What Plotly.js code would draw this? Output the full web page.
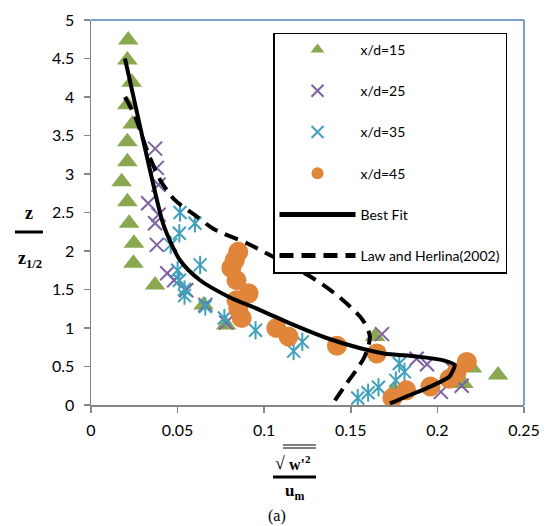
<!DOCTYPE html>
<html>
<head>
<meta charset="utf-8">
<script src="https://cdn.plot.ly/plotly-3.0.1.min.js"></script>
<style>html,body{margin:0;padding:0;background:#fff;}#chart{width:547px;height:526px;}</style>
</head>
<body>
<div id="chart"></div>
<script>
// x/d = 15 (green triangles)
const x15 = [0.0215,0.021,0.0235,0.021,0.024,0.021,0.021,0.0177,0.021,0.022,0.0248,0.0245,0.037,0.065,0.078,0.164,0.175,0.215,0.220,0.235];
const y15 = [4.74,4.48,4.19,3.90,3.65,3.42,3.16,2.90,2.64,2.36,2.10,1.84,1.56,1.30,1.04,0.89,0.19,0.28,0.48,0.39];
// x/d = 25 (purple crosses)
const x25 = [0.037,0.038,0.039,0.033,0.039,0.037,0.038,0.044,0.048,0.055,0.066,0.078,0.168,0.188,0.194,0.209,0.214,0.202];
const y25 = [3.33,3.08,2.86,2.62,2.47,2.36,2.08,1.71,1.62,1.49,1.30,1.07,0.92,0.60,0.53,0.46,0.25,0.17];
// x/d = 35 (cyan stars)
const x35 = [0.0514,0.060,0.051,0.046,0.063,0.050,0.051,0.054,0.054,0.066,0.077,0.095,0.122,0.117,0.154,0.160,0.166,0.176,0.181,0.178];
const y35 = [2.50,2.36,2.23,2.08,1.82,1.75,1.62,1.50,1.42,1.28,1.13,0.97,0.82,0.70,0.09,0.16,0.23,0.32,0.43,0.54];
// x/d = 45 (orange circles)
const x45 = [0.085,0.083,0.081,0.084,0.091,0.084,0.085,0.087,0.107,0.114,0.142,0.165,0.174,0.182,0.196,0.207,0.211,0.217];
const y45 = [1.99,1.88,1.78,1.62,1.45,1.36,1.25,1.13,1.00,0.89,0.77,0.67,0.09,0.19,0.24,0.34,0.42,0.56];
// Best fit curve
const xFit = [0.0196,0.030,0.041,0.0437,0.0514,0.063,0.080,0.098,0.117,0.136,0.155,0.169,0.188,0.2035,0.210,0.209,0.207,0.194,0.182,0.1726];
const yFit = [4.50,3.45,2.40,2.23,1.88,1.62,1.40,1.23,1.04,0.87,0.74,0.67,0.63,0.58,0.52,0.45,0.37,0.22,0.11,0.02];
// Law and Herlina (2002)
const xLaw = [0.0196,0.0254,0.033,0.040,0.0485,0.061,0.0706,0.090,0.109,0.128,0.144,0.157,0.161,0.158,0.153,0.1476,0.139];
const yLaw = [4.00,3.75,3.27,2.92,2.66,2.45,2.29,2.10,1.88,1.65,1.39,1.10,0.89,0.63,0.45,0.28,0.00];

const names = ['x/d=15','x/d=25','x/d=35','x/d=45','Best Fit','Law and Herlina(2002)'];
const xTicks = [0,0.05,0.1,0.15,0.2,0.25];
const xTickText = ['0','0.05','0.1','0.15','0.2','0.25'];
const yTicks = [0,0.5,1,1.5,2,2.5,3,3.5,4,4.5,5];
const yTickText = ['0','0.5','1','1.5','2','2.5','3','3.5','4','4.5','5'];

const green='#8AA84F', purple='#7E61A0', cyan='#3FA0BC', orange='#E0853A';

const traces = [
 {x:x15,y:y15,type:'scatter',mode:'markers',name:names[0],legendgroup:'a',
  marker:{symbol:'triangle-up',size:18,color:green}},
 {x:x25,y:y25,type:'scatter',mode:'markers',name:names[1],legendgroup:'b',
  marker:{symbol:'x-thin',size:14,color:purple,line:{color:purple,width:2}}},
 {x:x35,y:y35,type:'scatter',mode:'markers',name:names[2],legendgroup:'c',
  marker:{symbol:'x-thin',size:13,color:cyan,line:{color:cyan,width:2}}},
 {x:x35,y:y35,type:'scatter',mode:'markers',name:names[2],legendgroup:'c',showlegend:false,hoverinfo:'skip',
  marker:{symbol:'line-ns',size:13,color:cyan,line:{color:cyan,width:2}}},
 {x:x45,y:y45,type:'scatter',mode:'markers',name:names[3],legendgroup:'d',
  marker:{symbol:'circle',size:20,color:orange}},
 {x:xFit,y:yFit,type:'scatter',mode:'lines',name:names[4],legendgroup:'e',
  line:{color:'#000',width:4,shape:'spline',smoothing:0.8}},
 {x:xLaw,y:yLaw,type:'scatter',mode:'lines',name:names[5],legendgroup:'f',
  line:{color:'#000',width:4,dash:'14px,8px',shape:'spline',smoothing:0.8}}
];

const px = v => (v-91)/433;
const py = v => (405-v)/385;
const serif = 'Liberation Serif, Times New Roman, serif';
const ann = (x,y,text,size) => ({xref:'paper',yref:'paper',x:px(x),y:py(y),text:text,showarrow:false,
  xanchor:'center',yanchor:'middle',font:{family:serif,size:size,color:'#000'}});

const layout = {
 width:547,height:526,
 margin:{l:91,r:23,t:20,b:121,pad:0},
 paper_bgcolor:'#fff',plot_bgcolor:'#fff',
 font:{family:'Lato, Open Sans, sans-serif',size:16,color:'#000'},
 showlegend:true,
 legend:{x:px(273),y:py(32.5),xanchor:'left',yanchor:'top',bgcolor:'#fff',
   bordercolor:'#000',borderwidth:1.5,font:{family:'Lato, sans-serif',size:14,color:'#000'},
   traceorder:'grouped',tracegroupgap:20,itemwidth:76,itemsizing:'constant'},
 xaxis:{range:[0,0.25],tickvals:xTicks,ticktext:xTickText,ticks:'outside',ticklen:6,tickwidth:1.5,
   tickcolor:'#868686',showline:true,linecolor:'#868686',linewidth:1.5,showgrid:false,zeroline:false,
   ticklabelstandoff:4,tickfont:{size:16}},
 yaxis:{range:[0,5],tickvals:yTicks,ticktext:yTickText,ticks:'outside',ticklen:6,tickwidth:1.5,
   tickcolor:'#868686',showline:true,linecolor:'#868686',linewidth:1.5,showgrid:false,zeroline:false,
   ticklabelstandoff:6,tickfont:{size:16}},
 shapes:[
  {type:'line',xref:'paper',yref:'paper',x0:0,x1:1,y0:1,y1:1,line:{color:'#4F81BD',width:1.5}},
  {type:'line',xref:'paper',yref:'paper',x0:1,x1:1,y0:0,y1:1,line:{color:'#4F81BD',width:1.5}},
  {type:'line',xref:'paper',yref:'paper',x0:px(15),x1:px(43),y0:py(232),y1:py(232),line:{color:'#000',width:3}},
  {type:'line',xref:'paper',yref:'paper',x0:px(273),x1:px(316),y0:py(477),y1:py(477),line:{color:'#000',width:3}},
  {type:'line',xref:'paper',yref:'paper',x0:px(283),x1:px(316),y0:py(445),y1:py(445),line:{color:'#000',width:1.2}},
  {type:'line',xref:'paper',yref:'paper',x0:px(283),x1:px(316),y0:py(448),y1:py(448),line:{color:'#000',width:1.2}}
 ],
 annotations:[
  ann(29,213,'<b>z</b>',18),
  ann(30,259,'<b>z<sub>1/2</sub></b>',18),
  ann(280,463,'√',18),
  ann(300,463,'<b>w\'<sup>2</sup></b>',16),
  ann(294,492,'<b>u<sub>m</sub></b>',17),
  ann(277,516,'(a)',16)
 ]
};

Plotly.newPlot('chart',traces,layout,{displayModeBar:false,staticPlot:true});
</script>
</body>
</html>
